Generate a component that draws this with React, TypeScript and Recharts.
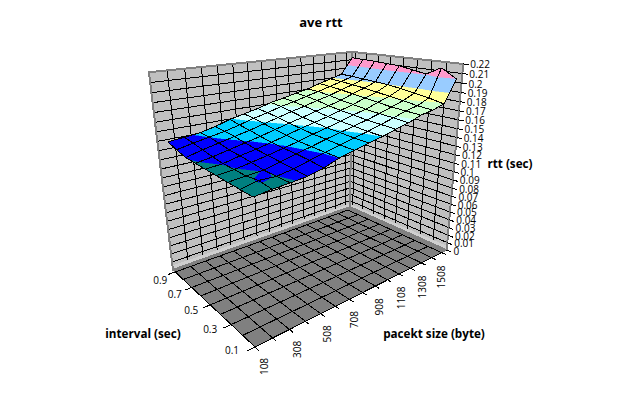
import { ScatterChart, Scatter, XAxis, YAxis } from 'recharts'

const PACKET_LABELS = ['108', '308', '508', '708', '908', '1108', '1308', '1508']
const INTERVAL_LABELS = ['0.1', '0.3', '0.5', '0.7', '0.9']
const RTT_TICKS = [
  '0', '0.01', '0.02', '0.03', '0.04', '0.05', '0.06', '0.07', '0.08', '0.09', '0.1', '0.11',
  '0.12', '0.13', '0.14', '0.15', '0.16', '0.17', '0.18', '0.19', '0.2', '0.21', '0.22',
]

// rtt (sec) per interval, one value per packet size 108, 208 ... 1508
const RTT_01 = [.1365, .1385, .1395, .1410, .1445, .1500, .1535, .1570, .1600, .1640, .1675, .1725, .1750, .1790, .2035]
const RTT_02 = [.1370, .1405, .1398, .1425, .1465, .1505, .1540, .1575, .1610, .1650, .1690, .1735, .1765, .1825, .2135]
const RTT_03 = [.1375, .1390, .1402, .1440, .1480, .1515, .1555, .1590, .1625, .1660, .1700, .1745, .1790, .1850, .2045]
const RTT_04 = [.1382, .1396, .1425, .1455, .1490, .1525, .1565, .1600, .1640, .1680, .1715, .1765, .1810, .1875, .2070]
const RTT_05 = [.1388, .1402, .1440, .1470, .1505, .1545, .1585, .1620, .1655, .1695, .1735, .1785, .1830, .1895, .2100]
const RTT_06 = [.1394, .1420, .1455, .1490, .1525, .1565, .1605, .1640, .1680, .1715, .1755, .1805, .1850, .1905, .2105]
const RTT_07 = [.1402, .1445, .1480, .1515, .1550, .1590, .1630, .1670, .1705, .1745, .1780, .1825, .1865, .1915, .2115]
const RTT_08 = [.1435, .1470, .1500, .1530, .1570, .1615, .1650, .1695, .1725, .1765, .1800, .1840, .1880, .1925, .2120]
const RTT_09 = [.1475, .1490, .1508, .1545, .1595, .1630, .1665, .1710, .1740, .1775, .1805, .1850, .1890, .1930, .2125]
const RTT_ROWS = [RTT_01, RTT_02, RTT_03, RTT_04, RTT_05, RTT_06, RTT_07, RTT_08, RTT_09]

const BAND_EDGES = [.13, .14, .15, .16, .17, .18, .19, .204, .215]
const BAND_COLORS = ['#008080', '#0000FF', '#00CCFF', '#CCFFFF', '#CCFFCC', '#FFFF99', '#99CCFF', '#FF99CC']

const RTT_MAX = 0.22
const U_CELLS = RTT_01.length - 1
const V_CELLS = RTT_ROWS.length - 1
const FONT = 'Open Sans'

// where the corners of the plot cube land on the page: [u, v, w, px, py]
const CUBE_ANCHORS = [
  [0, 0, 0, 255, 347],
  [1, 0, 0, 445, 250],
  [0, 1, 0, 172, 270],
  [1, 1, 0, 352, 207],
  [0, 1, 1, 150, 72],
  [1, 1, 1, 350, 52],
  [1, 0, 1, 465, 64],
]

type Pt = { x: number; y: number }
type P3 = [number, number, number]

function solveCamera() {
  const rows: number[][] = []
  for (const [u, v, w, px, py] of CUBE_ANCHORS) {
    rows.push([u, v, w, 1, 0, 0, 0, 0, -px * u, -px * v, -px * w, px])
    rows.push([0, 0, 0, 0, u, v, w, 1, -py * u, -py * v, -py * w, py])
  }
  const n = 11
  const m = Array.from({ length: n }, (_, a) =>
    Array.from({ length: n + 1 }, (_, b) => rows.reduce((s, r) => s + r[a] * r[b], 0)),
  )
  for (let c = 0; c < n; c++) {
    let best = c
    for (let r = c + 1; r < n; r++) if (Math.abs(m[r][c]) > Math.abs(m[best][c])) best = r
    ;[m[c], m[best]] = [m[best], m[c]]
    for (let r = 0; r < n; r++) {
      if (r === c) continue
      const f = m[r][c] / m[c][c]
      for (let k = c; k <= n; k++) m[r][k] -= f * m[c][k]
    }
  }
  return m.map((r, i) => r[n] / r[i])
}

const cam = solveCamera()
function project([u, v, w]: P3): Pt {
  const d = cam[8] * u + cam[9] * v + cam[10] * w + 1
  return {
    x: (cam[0] * u + cam[1] * v + cam[2] * w + cam[3]) / d,
    y: (cam[4] * u + cam[5] * v + cam[6] * w + cam[7]) / d,
  }
}

// surface and floor grid sit a little inside the walls
const GRID_END = 0.965
const SURF_U0 = 0.04
const SURF_U1 = 1.0
const SURF_V0 = 0.04
const SURF_V1 = 1.0
const surfPoint = (i: number, j: number): P3 => [
  SURF_U0 + ((SURF_U1 - SURF_U0) * i) / U_CELLS,
  SURF_V0 + ((SURF_V1 - SURF_V0) * j) / V_CELLS,
  RTT_ROWS[j][i] / RTT_MAX,
]

function clipBand(poly: P3[], lo: number, hi: number) {
  const clip = (pts: P3[], inside: (w: number) => boolean, edge: number) => {
    const out: P3[] = []
    pts.forEach((a, k) => {
      const b = pts[(k + 1) % pts.length]
      if (inside(a[2])) out.push(a)
      if (inside(a[2]) !== inside(b[2])) {
        const t = (edge - a[2]) / (b[2] - a[2])
        out.push([a[0] + (b[0] - a[0]) * t, a[1] + (b[1] - a[1]) * t, edge])
      }
    })
    return out
  }
  return clip(clip(poly, (w) => w >= lo, lo), (w) => w <= hi, hi)
}

const wallPolys = [
  [[0, 1, 0], [1, 1, 0], [1, 1, 1], [0, 1, 1]],
  [[1, 0, 0], [1, 1, 0], [1, 1, 1], [1, 0, 1]],
] as P3[][]
const floorPoly = [[0, 0, 0], [1, 0, 0], [1, 1, 0], [0, 1, 0]] as P3[]

const gridU = (i: number) => (i / U_CELLS) * GRID_END
const gridV = (j: number) => (j / V_CELLS) * GRID_END

const wallLines: P3[][] = []
RTT_TICKS.forEach((_, k) => {
  if (k === 0) return
  const w = k / (RTT_TICKS.length - 1)
  wallLines.push([[0, 1, w], [1, 1, w]], [[1, 1, w], [1, 0, w]])
})
for (let i = 0; i <= U_CELLS; i++) wallLines.push([[gridU(i), 1, 0], [gridU(i), 1, 1]])
for (let j = 0; j <= V_CELLS; j++) wallLines.push([[1, gridV(j), 0], [1, gridV(j), 1]])

const STRIP = 0.025
const stripPolys = [
  [[0, 1, 0], [1, 1, 0], [1, 1, STRIP], [0, 1, STRIP]],
  [[1, 0, 0], [1, 1, 0], [1, 1, STRIP], [1, 0, STRIP]],
] as P3[][]

const floorLines: P3[][] = []
for (let i = 0; i <= U_CELLS; i++) floorLines.push([[gridU(i), 0, 0], [gridU(i), GRID_END, 0]])
for (let j = 0; j <= V_CELLS; j++) floorLines.push([[0, gridV(j), 0], [GRID_END, gridV(j), 0]])

const tickLines: P3[][] = []
for (let i = 0; i <= U_CELLS; i++) tickLines.push([[gridU(i), 0, 0], [gridU(i), -0.035, 0]])
for (let j = 0; j <= V_CELLS; j += 2) tickLines.push([[0, gridV(j), 0], [-0.03, gridV(j), 0]])
RTT_TICKS.forEach((_, k) => {
  const w = k / (RTT_TICKS.length - 1)
  tickLines.push([[1, 0, w], [1, -0.04, w]])
})

const bandPolys: P3[][][] = BAND_COLORS.map(() => [])
for (let j = V_CELLS - 1; j >= 0; j--) {
  for (let i = U_CELLS - 1; i >= 0; i--) {
    const quad = [surfPoint(i, j), surfPoint(i + 1, j), surfPoint(i + 1, j + 1), surfPoint(i, j + 1)]
    BAND_COLORS.forEach((_, b) => {
      const part = clipBand(quad, BAND_EDGES[b] / RTT_MAX, BAND_EDGES[b + 1] / RTT_MAX)
      if (part.length > 2) bandPolys[b].push(part)
    })
  }
}

const meshLines: P3[][] = []
for (let j = 0; j <= V_CELLS; j++) {
  for (let i = 0; i <= U_CELLS; i++) {
    if (i < U_CELLS) meshLines.push([surfPoint(i, j), surfPoint(i + 1, j)])
    if (j < V_CELLS) meshLines.push([surfPoint(i, j), surfPoint(i, j + 1)])
  }
}

type Label = Pt & { label: string; anchor?: string; rotate?: boolean; bold?: boolean; size?: number }

const labels: Label[] = [
  { x: 321, y: 22, label: 'ave rtt', bold: true, size: 13 },
  { x: 143, y: 333, label: 'interval (sec)', bold: true, size: 11.7 },
  { x: 434, y: 333, label: 'pacekt size (byte)', bold: true, size: 11.7 },
  { x: 510, y: 163, label: 'rtt (sec)', bold: true, size: 11.7 },
]
RTT_TICKS.forEach((label, k) => {
  const p = project([1, 0, k / (RTT_TICKS.length - 1)])
  labels.push({ x: p.x + 7, y: p.y + 0.5, label, anchor: 'start' })
})
PACKET_LABELS.forEach((label, k) => {
  const t = k / (PACKET_LABELS.length - 1)
  const p = project([t * GRID_END, 0, 0])
  labels.push({ x: p.x + 9 - 10 * t, y: p.y + 11 + 2 * t, label, anchor: 'end', rotate: true })
})
INTERVAL_LABELS.forEach((label, k) => {
  const t = k / (INTERVAL_LABELS.length - 1)
  const p = project([0, t * GRID_END, 0])
  labels.push({ x: p.x - 23 + 8 * t, y: p.y + 3 + 5 * t, label })
})

const hidden = () => <g />

function polySeries(key: string, polys: P3[][], style: Record<string, unknown>, closed: boolean) {
  const sizes = polys.map((p) => p.length)
  const data = polys.flat().map(project)
  const draw = (lp: { points: Pt[] }) => {
    let k = 0
    const d = sizes
      .map((n) => {
        const seg = lp.points.slice(k, k + n)
        k += n
        return 'M' + seg.map((p) => `${p.x},${p.y}`).join('L') + (closed ? 'Z' : '')
      })
      .join('')
    return <path d={d} {...style} shapeRendering="crispEdges" />
  }
  return <Scatter key={key} data={data} line={draw} shape={hidden} isAnimationActive={false} />
}

function LabelText(p: { cx: number; cy: number; payload: Label }) {
  const { label, anchor, rotate, bold, size } = p.payload
  return (
    <text
      x={p.cx}
      y={p.cy}
      textAnchor={anchor ?? 'middle'}
      dominantBaseline="central"
      transform={rotate ? `rotate(-90 ${p.cx} ${p.cy})` : undefined}
      fontFamily={FONT}
      fontSize={size ?? 10}
      fontWeight={bold ? 700 : 400}
      fill="#000"
    >
      {label}
    </text>
  )
}

export default function App() {
  return (
    <div style={{ position: 'absolute', left: 0, top: 0, width: 643, height: 403, background: '#fff' }}>
      <ScatterChart width={643} height={403} margin={{ top: 0, right: 0, bottom: 0, left: 0 }}>
        <XAxis type="number" dataKey="x" domain={[0, 643]} hide />
        <YAxis type="number" dataKey="y" domain={[0, 403]} reversed hide />
        {polySeries('floor', [floorPoly], { fill: '#808080', stroke: '#808080' }, true)}
        {polySeries('walls', wallPolys, { fill: '#C0C0C0', stroke: 'none' }, true)}
        {polySeries('wallGrid', wallLines, { fill: 'none', stroke: '#000', strokeWidth: 1 }, false)}
        {polySeries('strips', stripPolys, { fill: '#CFCFCF', stroke: 'none' }, true)}
        {polySeries('wallEdge', wallPolys, { fill: 'none', stroke: '#808080', strokeWidth: 2 }, true)}
        {polySeries('floorGrid', floorLines, { fill: 'none', stroke: '#000', strokeWidth: 1 }, false)}
        {polySeries('ticks', tickLines, { fill: 'none', stroke: '#000', strokeWidth: 1 }, false)}
        {BAND_COLORS.map((c, b) =>
          polySeries(`band${b}`, bandPolys[b], { fill: c, stroke: c, strokeWidth: 0.5 }, true),
        )}
        {polySeries('mesh', meshLines, { fill: 'none', stroke: '#000', strokeWidth: 1 }, false)}
        <Scatter data={labels} shape={LabelText as never} isAnimationActive={false} />
      </ScatterChart>
    </div>
  )
}
